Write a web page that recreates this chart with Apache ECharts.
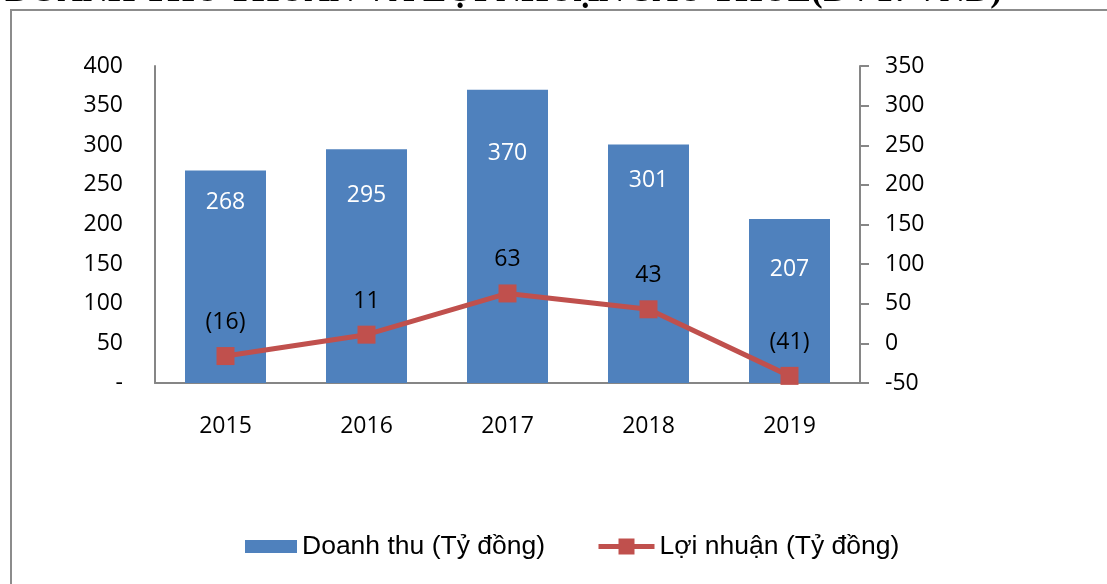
<!DOCTYPE html>
<html>
<head>
<meta charset="utf-8">
<script src="https://cdn.jsdelivr.net/npm/echarts@6/dist/echarts.min.js"></script>
<style>
html,body{margin:0;padding:0;background:#fff;}
#chart{width:1107px;height:584px;}
</style>
</head>
<body>
<div id="chart"></div>
<script>
const titleText = 'DOANH THU THUẦN VÀ LỢI NHUẬN SAU THUẾ(ĐVT: VNĐ)';
const categories = ['2015', '2016', '2017', '2018', '2019'];
const revenueName = 'Doanh thu (Tỷ đồng)';
const profitName = 'Lợi nhuận (Tỷ đồng)';
const revenue = [268, 295, 370, 301, 207];
const profit = [-16, 11, 63, 43, -41];
const leftTicks = { min: 0, max: 400, interval: 50 };
const rightTicks = { min: -50, max: 350, interval: 50 };

// label placement (style only): distance of bar label centre below bar top
const barLabelCenterGap = [29, 44, 61, 33, 48];

const numFont = "'Open Sans', 'Noto Sans', sans-serif";
const numSize = 23;
const legendFont = "'Liberation Sans', Arial, sans-serif";
const legendSize = 26.5;

const chart = echarts.init(document.getElementById('chart'), null, { renderer: 'canvas' });

const barData = revenue.map((v, i) => ({
  value: v,
  label: { distance: barLabelCenterGap[i] - 9 }
}));

chart.setOption({
  animation: false,
  backgroundColor: '#ffffff',
  graphic: [
    {
      type: 'rect',
      shape: { x: 11, y: 10, width: 1300, height: 800 },
      style: { fill: 'none', stroke: '#8c8c8c', lineWidth: 2 },
      silent: true
    },
    {
      type: 'text',
      x: 5,
      y: -8,
      style: {
        text: titleText,
        font: "bold 35px 'Liberation Serif', 'DejaVu Serif', serif",
        fill: '#000',
        verticalAlign: 'middle',
        align: 'left'
      },
      silent: true
    }
  ],
  grid: { left: 155, right: 247, top: 66, bottom: 201, containLabel: false },
  legend: [
    {
      left: 245,
      top: 533,
      itemWidth: 52,
      itemHeight: 13,
      padding: 0,
      textStyle: { fontFamily: legendFont, fontSize: legendSize, color: '#000' },
      data: [{ name: revenueName, icon: 'rect' }]
    },
    {
      left: 596,
      top: 533,
      itemWidth: 56,
      itemHeight: 20,
      padding: 0,
      lineStyle: { width: 5 },
      textStyle: { fontFamily: legendFont, fontSize: legendSize, color: '#000' },
      data: [{ name: profitName }]
    }
  ],
  xAxis: {
    type: 'category',
    data: categories,
    axisLine: { lineStyle: { color: '#868686', width: 2 } },
    axisTick: { show: false },
    axisLabel: { color: '#000', fontFamily: numFont, fontSize: numSize, margin: 32 }
  },
  yAxis: [
    {
      type: 'value',
      min: leftTicks.min, max: leftTicks.max, interval: leftTicks.interval,
      position: 'left',
      splitLine: { show: false },
      axisLine: { show: true, lineStyle: { color: '#868686', width: 2 } },
      axisTick: { show: false },
      axisLabel: {
        color: '#000', fontFamily: numFont, fontSize: numSize, margin: 32,
        formatter: v => (v === 0 ? '-' : String(v))
      }
    },
    {
      type: 'value',
      min: rightTicks.min, max: rightTicks.max, interval: rightTicks.interval,
      position: 'right',
      splitLine: { show: false },
      axisLine: { show: true, lineStyle: { color: '#868686', width: 2 } },
      axisTick: { show: true, length: 9, lineStyle: { color: '#868686', width: 2 } },
      axisLabel: { color: '#000', fontFamily: numFont, fontSize: numSize, margin: 25 }
    }
  ],
  series: [
    {
      name: revenueName,
      type: 'bar',
      yAxisIndex: 0,
      data: barData,
      barWidth: 81,
      itemStyle: { color: '#4F81BD' },
      label: {
        show: true,
        position: 'insideTop',
        color: '#ffffff',
        fontFamily: numFont,
        fontSize: numSize
      },
      z: 2
    },
    {
      name: profitName,
      type: 'line',
      yAxisIndex: 1,
      data: profit,
      symbol: 'rect',
      symbolSize: 18,
      lineStyle: { color: '#C0504D', width: 5 },
      itemStyle: { color: '#C0504D' },
      label: {
        show: true,
        position: 'top',
        distance: 13,
        color: '#000',
        fontFamily: numFont,
        fontSize: numSize,
        formatter: p => (p.value < 0 ? '(' + Math.abs(p.value) + ')' : String(p.value))
      },
      z: 3
    }
  ]
});
</script>
</body>
</html>
